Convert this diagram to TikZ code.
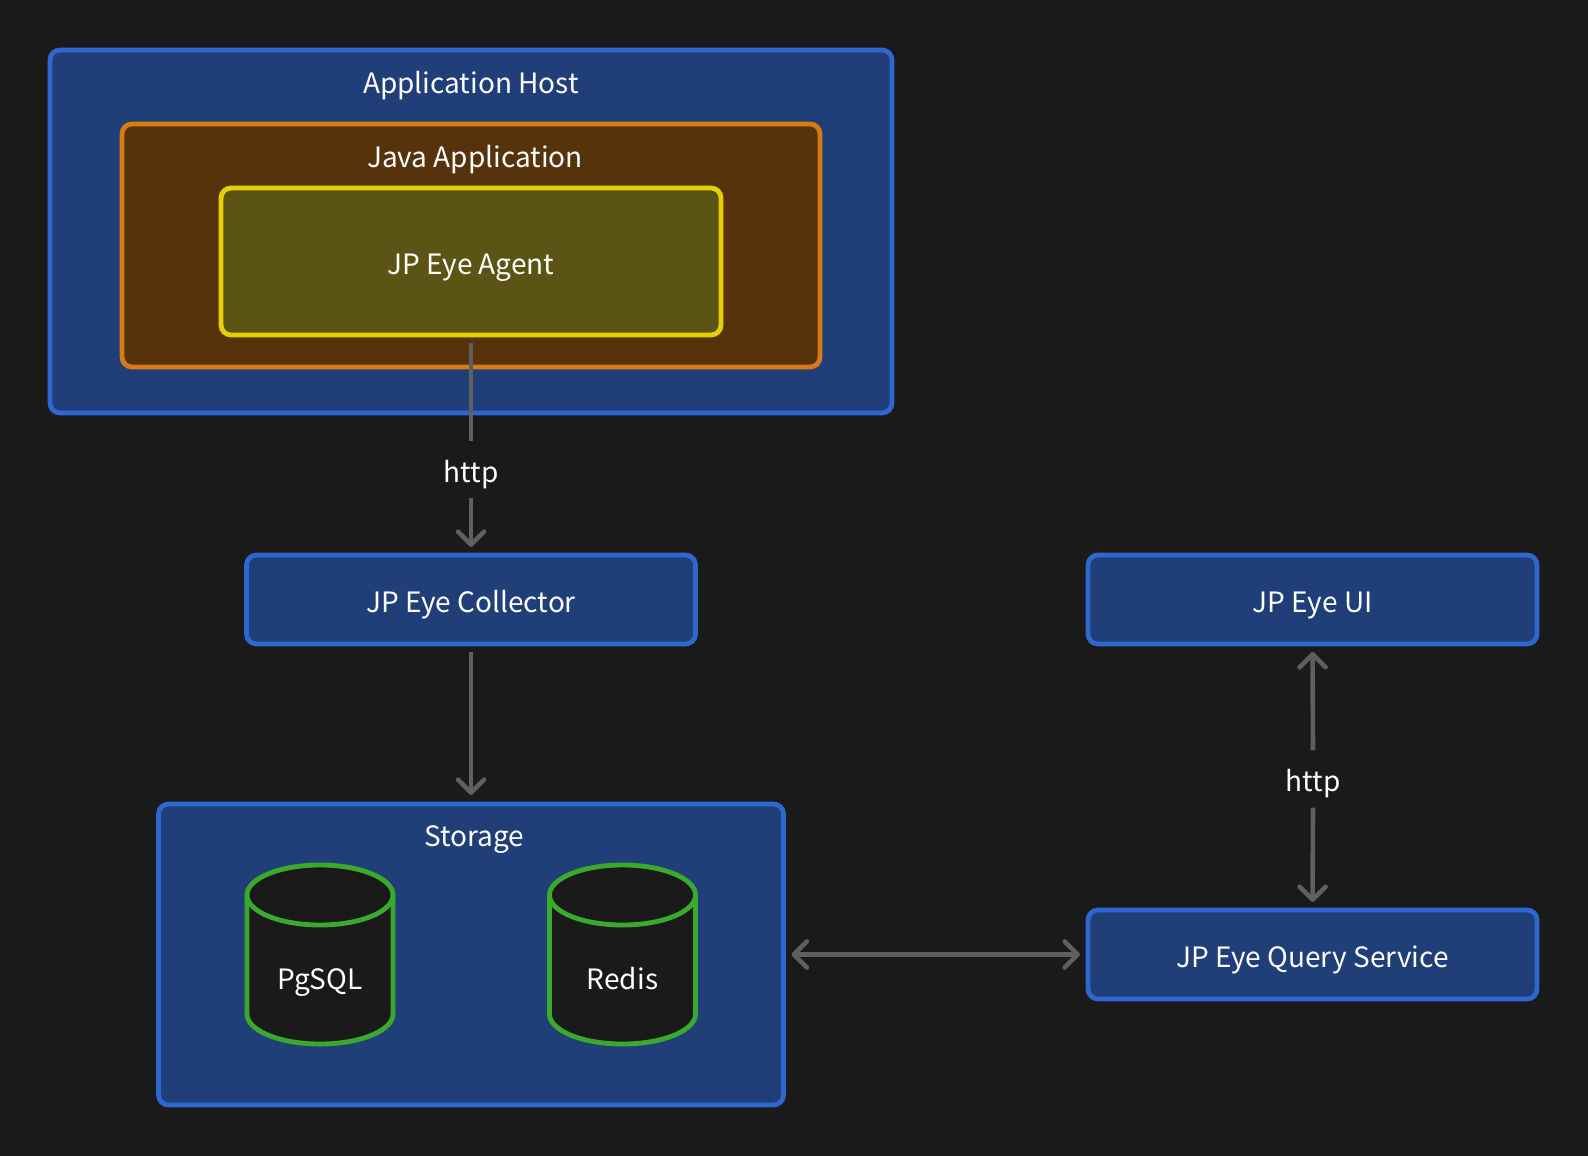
\documentclass[tikz,border=0pt]{standalone}
\usepackage{fontspec}
\setmainfont{Noto Sans CJK SC}
\usetikzlibrary{arrows.meta}
\definecolor{bgdark}{HTML}{1A1A1A}
\definecolor{blueline}{HTML}{2F66CF}
\definecolor{bluefill}{HTML}{203F78}
\definecolor{orangeline}{HTML}{D97B14}
\definecolor{orangefill}{HTML}{56330A}
\definecolor{yellowline}{HTML}{E6D000}
\definecolor{yellowfill}{HTML}{5C5414}
\definecolor{greenline}{HTML}{3AAA2C}
\definecolor{connline}{HTML}{5F5F5F}
\tikzset{txt/.style = {text = white, font = \fontsize{28}{34}\selectfont, inner sep = 0, text height = 27, text depth = 2}}
\tikzset{box/.style = {txt, rectangle, draw, rounded corners = 10, line width = 4.8, outer sep = 0}}
\tikzset{bluebox/.style = {box, draw = blueline, fill = bluefill}}
\tikzset{db/.style = {draw = greenline, fill = bgdark, line width = 4.8}}
\tikzset{conn/.style = {draw = connline, line width = 4.6}}
\tikzset{tip/.style = {-{Straight Barb[length = 13, width = 26, round]}}}
\tikzset{bitip/.style = {{Straight Barb[length = 13, width = 26, round]}-{Straight Barb[length = 13, width = 26, round]}}}

\begin{document}
\begin{tikzpicture}[x=1pt, y=-1pt]
  \fill [bgdark] (0, 0) rectangle (1588, 1156);
  \node [bluebox, minimum width = 842, minimum height = 363] (host) at (471, 231.5) {};
  \node [txt] (hosttitle) at (471, 81) {Application Host};
  \node [box, draw = orangeline, fill = orangefill, minimum width = 698, minimum height = 243] (java) at (471, 245.5) {};
  \node [txt] (javatitle) at (475, 154.7) {Java Application};
  \node [box, draw = yellowline, fill = yellowfill, minimum width = 500, minimum height = 147] (agent) at (471, 261.5) {JP Eye Agent};

  \node [bluebox, minimum width = 449, minimum height = 89] (collector) at (471, 599.5) {JP Eye Collector};
  \node [bluebox, minimum width = 449, minimum height = 89] (ui) at (1312.5, 599.5) {JP Eye UI};
  \node [bluebox, minimum width = 449, minimum height = 89] (query) at (1312.5, 954.5) {JP Eye Query Service};

  \node [bluebox, minimum width = 625, minimum height = 301] (storage) at (471, 954.5) {};
  \node [txt] (storagetitle) at (474.5, 833.7) {Storage};
  \foreach \x/\name/\label in {320/pgsql/PgSQL, 622.5/redis/Redis} {
    \draw [db] ({\x - 73}, 895) -- ({\x - 73}, 1014) arc (180:360:73pt and 30pt)
      -- ({\x + 73}, 895) arc (0:180:73pt and 30pt) -- cycle;
    \draw [db, fill = none] ({\x - 73}, 895) arc (180:360:73pt and 30pt);
    \node [txt] (\name) at (\x, 977) {\label};
  }

  \node [txt, minimum height = 57] (httpa) at (471, 469.5) {http};
  \node [txt, minimum height = 57] (httpb) at (1313, 779) {http};

  \draw [conn, shorten <= 8] (agent.south) -- (httpa.north);
  \draw [conn, tip, shorten > = 8] (httpa.south) -- (collector.north);
  \draw [conn, tip, shorten < = 8, shorten > = 9] (collector.south) -- (storage.north);
  \draw [conn, bitip, shorten < = 8, shorten > = 8] (storage.east) -- (query.west);
  \draw [conn, tip, shorten > = 8] (httpb.north) -- (ui.south);
  \draw [conn, tip, shorten > = 8] (httpb.south) -- (query.north);
\end{tikzpicture}
\end{document}
